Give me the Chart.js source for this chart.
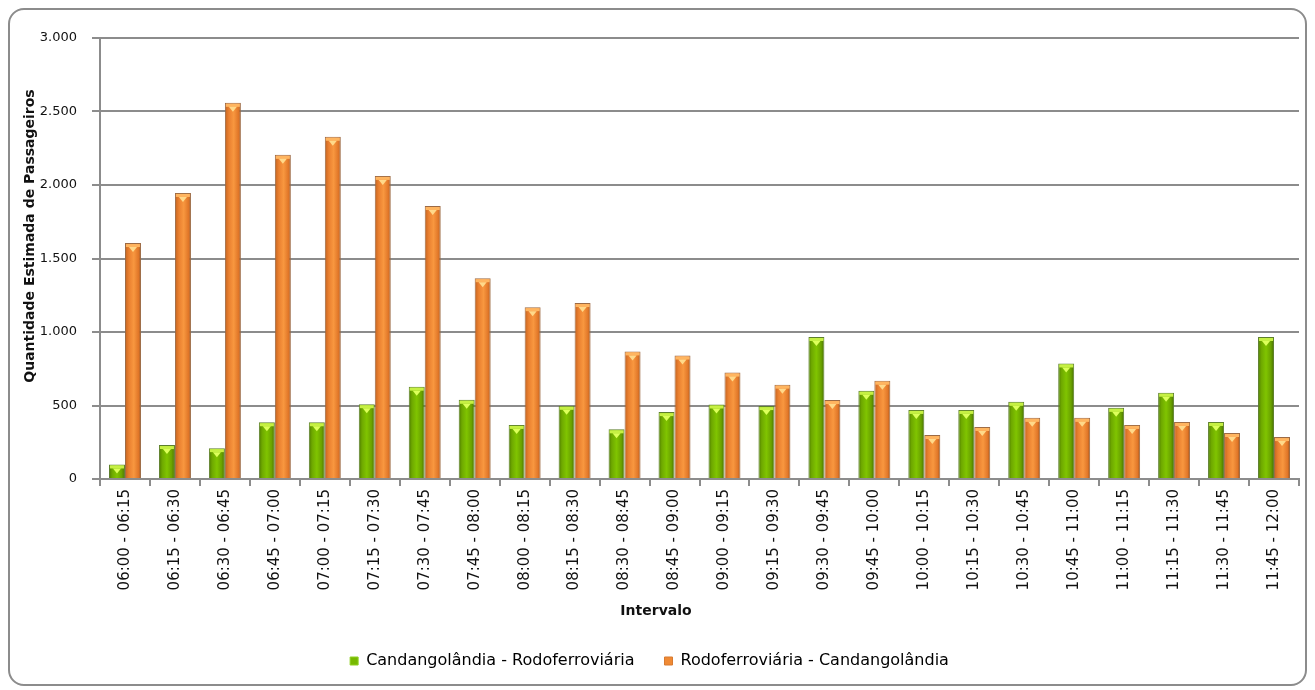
<!DOCTYPE html>
<html>
<head>
<meta charset="utf-8">
<script src="https://cdn.jsdelivr.net/npm/chart.js@4/dist/chart.umd.min.js"></script>
<style>
  html, body { margin: 0; padding: 0; background: #fff; }
  #wrap { position: relative; width: 1315px; height: 690px; }
  #frame {
    position: absolute; left: 8px; top: 8px; width: 1295px; height: 674px;
    border: 2px solid #8c8c8c; border-radius: 16px; box-sizing: content-box;
  }
  #c { position: absolute; left: 0; top: 0; }
</style>
</head>
<body>
<div id="wrap">
  <div id="frame"></div>
  <canvas id="c" width="1315" height="690"></canvas>
</div>
<script>
// ── data ─────────────────────────────────────────────
const intervals = [
    '06:00 - 06:15', '06:15 - 06:30', '06:30 - 06:45', '06:45 - 07:00',
    '07:00 - 07:15', '07:15 - 07:30', '07:30 - 07:45', '07:45 - 08:00',
    '08:00 - 08:15', '08:15 - 08:30', '08:30 - 08:45', '08:45 - 09:00',
    '09:00 - 09:15', '09:15 - 09:30', '09:30 - 09:45', '09:45 - 10:00',
    '10:00 - 10:15', '10:15 - 10:30', '10:30 - 10:45', '10:45 - 11:00',
    '11:00 - 11:15', '11:15 - 11:30', '11:30 - 11:45', '11:45 - 12:00'
];
const candRodo = [
    99, 231, 210, 386, 386, 509, 628, 539, 368, 498, 338, 455,
    507, 496, 966, 600, 470, 470, 525, 786, 484, 587, 388, 966
];
const rodoCand = [
    1605, 1946, 2559, 2205, 2328, 2062, 1857, 1366, 1169, 1197, 868, 840,
    724, 642, 537, 669, 299, 354, 416, 416, 368, 388, 313, 285
];
const seriesNames = ['Candangolândia - Rodoferroviária', 'Rodoferroviária - Candangolândia'];
const yTicks = [0, 500, 1000, 1500, 2000, 2500, 3000];

const CAT_PCT = 0.64;
const FONT = "'DejaVu Sans', sans-serif";

function fmt(n) { return String(n).replace(/\B(?=(\d{3})+(?!\d))/g, '.'); }

// horizontal "cylinder" gradient for each bar, placed from the x scale
function barFill(stops, flat) {
    return ctx => {
        if (ctx.type !== 'data') return flat;
        const xs = ctx.chart.scales.x;
        if (!xs || !ctx.chart.chartArea) return flat;
        const catW = (xs.right - xs.left) / intervals.length;
        const groupW = catW * CAT_PCT;
        const barW = groupW / 2;
        const left = xs.getPixelForValue(ctx.dataIndex) - groupW / 2 + ctx.datasetIndex * barW;
        const g = ctx.chart.ctx.createLinearGradient(left, 0, left + barW, 0);
        stops.forEach(s => g.addColorStop(s[0], s[1]));
        return g;
    };
}

const greenStops  = [[0, '#4c7a00'], [0.2, '#6ea800'], [0.5, '#80c400'], [0.8, '#6aa200'], [1, '#466f00']];
const orangeStops = [[0, '#c4631f'], [0.25, '#ea8030'], [0.55, '#f8973f'], [0.85, '#e07628'], [1, '#9a4f18']];

// bevelled cap on top of every bar
const capPlugin = {
    id: 'caps',
    afterDatasetsDraw(chart) {
        const c = chart.ctx;
        const caps = [['#c6f043', '#dcff5a'], ['#ffb560', '#ffd98a']];
        chart.data.datasets.forEach((ds, di) => {
            chart.getDatasetMeta(di).data.forEach(bar => {
                const { x, y, width } = bar.getProps(['x', 'y', 'width'], true);
                c.save();
                c.fillStyle = caps[di][0];
                c.fillRect(x - width / 2 + 1, y + 1, width - 2, 3);
                c.fillStyle = caps[di][1];
                c.beginPath();
                c.moveTo(x - 4, y + 4);
                c.lineTo(x + 4, y + 4);
                c.lineTo(x, y + 9);
                c.closePath();
                c.fill();
                c.restore();
            });
        });
    }
};

// axis titles placed like the original sheet
const titlePlugin = {
    id: 'axisTitles',
    afterDraw(chart) {
        const c = chart.ctx;
        c.save();
        c.fillStyle = '#111';
        c.font = "bold 14px " + FONT;
        c.textAlign = 'center';
        c.textBaseline = 'middle';
        c.fillText('Intervalo', 656, 611);
        c.translate(30, 236);
        c.rotate(-Math.PI / 2);
        c.fillText('Quantidade Estimada de Passageiros', 0, 0);
        c.restore();
    }
};

new Chart(document.getElementById('c'), {
    type: 'bar',
    data: {
        labels: intervals,
        datasets: [{
            label: seriesNames[0],
            data: candRodo,
            backgroundColor: barFill(greenStops, '#76b800'),
            borderColor: '#5d7f2c',
            borderWidth: 1,
            categoryPercentage: CAT_PCT,
            barPercentage: 1
        }, {
            label: seriesNames[1],
            data: rodoCand,
            backgroundColor: barFill(orangeStops, '#f08a34'),
            borderColor: '#9c6a44',
            borderWidth: 1,
            categoryPercentage: CAT_PCT,
            barPercentage: 1
        }]
    },
    options: {
        responsive: false,
        animation: false,
        devicePixelRatio: 1,
        layout: { padding: { top: 38, right: 16, left: 0, bottom: 11 } },
        plugins: {
            tooltip: { enabled: false },
            legend: {
                position: 'bottom',
                labels: {
                    boxWidth: 8, boxHeight: 8, padding: 30,
                    color: '#111', font: { family: FONT, size: 16 },
                    generateLabels: () => seriesNames.map((n, i) => ({
                        text: n,
                        fillStyle: i === 0 ? '#76b800' : '#f08a34',
                        strokeStyle: i === 0 ? '#8fd020' : '#d77a30',
                        lineWidth: 1,
                        datasetIndex: i
                    }))
                }
            }
        },
        scales: {
            x: {
                grid: { offset: true, drawOnChartArea: false, drawTicks: true, tickLength: 7, color: '#8c8c8c', lineWidth: 2 },
                border: { color: '#8c8c8c', width: 2 },
                ticks: {
                    minRotation: 90, maxRotation: 90, padding: 3, autoSkip: false,
                    color: '#111', font: { family: FONT, size: 15 }
                },
                afterFit: s => { s.height = 144; }
            },
            y: {
                min: 0, max: 3000,
                afterBuildTicks: s => { s.ticks = yTicks.map(v => ({ value: v })); },
                grid: { color: '#8c8c8c', lineWidth: 2, tickLength: 8 },
                border: { color: '#8c8c8c', width: 2 },
                ticks: {
                    padding: 15, color: '#111', font: { family: FONT, size: 13 },
                    callback: v => fmt(v)
                },
                afterFit: s => { s.width = 100; }
            }
        }
    },
    plugins: [capPlugin, titlePlugin]
});
</script>
</body>
</html>
